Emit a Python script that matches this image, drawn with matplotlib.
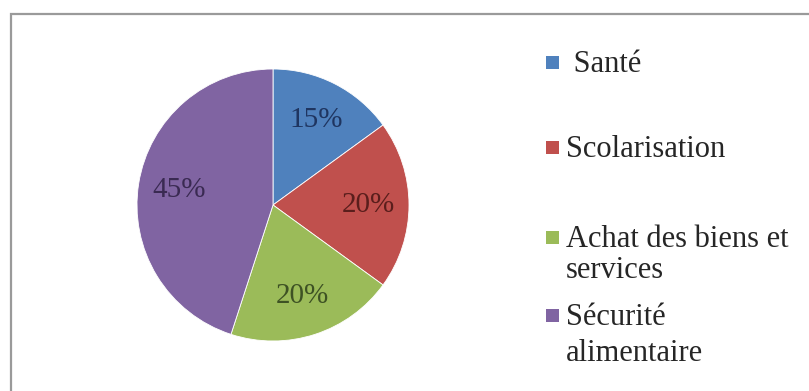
import matplotlib.pyplot as plt
from matplotlib.patches import Rectangle

# Data
labels = ["Santé", "Scolarisation", "Achat des biens et\nservices", "Sécurité\nalimentaire"]
legend_texts = [" Santé", "Scolarisation", "Achat des biens et\nservices", "Sécurité\nalimentaire"]
values = [15, 20, 20, 45]

colors = ["#4F81BD", "#C0504D", "#9BBB59", "#8064A2"]
text_colors = ["#1F3560", "#5A1E1C", "#3E5224", "#3A2A52"]

W, H = 809, 391
plt.rcParams["font.family"] = ["Liberation Serif", "DejaVu Serif"]

fig = plt.figure(figsize=(W / 100, H / 100), dpi=100)

# outer frame (right and bottom run off the picture)
fig.add_artist(Rectangle((11 / W, -0.05), 1.1, 1 - 14 / H + 0.05,
                         transform=fig.transFigure, fill=False,
                         edgecolor="#9a9a9a", linewidth=1.6))

# pie
cx, cy, r = 273, 205, 136
ax = fig.add_axes([(cx - r) / W, (H - cy - r) / H, 2 * r / W, 2 * r / H])
wedges, _, autotexts = ax.pie(values, colors=colors, startangle=90, counterclock=False,
                              autopct="%d%%", pctdistance=0.7,
                              wedgeprops=dict(edgecolor="white", linewidth=0.6),
                              textprops=dict(fontsize=21))
for t, c in zip(autotexts, text_colors):
    t.set_color(c)
ax.set_xlim(-1, 1)
ax.set_ylim(-1, 1)
ax.set_aspect("equal")
ax.axis("off")

# legend drawn by hand to match the uneven spacing
baselines = [72, 157, 247, 325]
line_steps = [0, 0, 31, 36]
for txt, col, yb, step in zip(legend_texts, colors, baselines, line_steps):
    fig.add_artist(Rectangle((546 / W, 1 - (yb - 3) / H), 13 / W, 13 / H,
                             transform=fig.transFigure, facecolor=col, edgecolor="none"))
    for i, line in enumerate(txt.split("\n")):
        fig.text(566 / W, 1 - (yb + i * step) / H, line, fontsize=22, color="#262626",
                 va="baseline", ha="left")

fig.savefig("out.png", dpi=100)
